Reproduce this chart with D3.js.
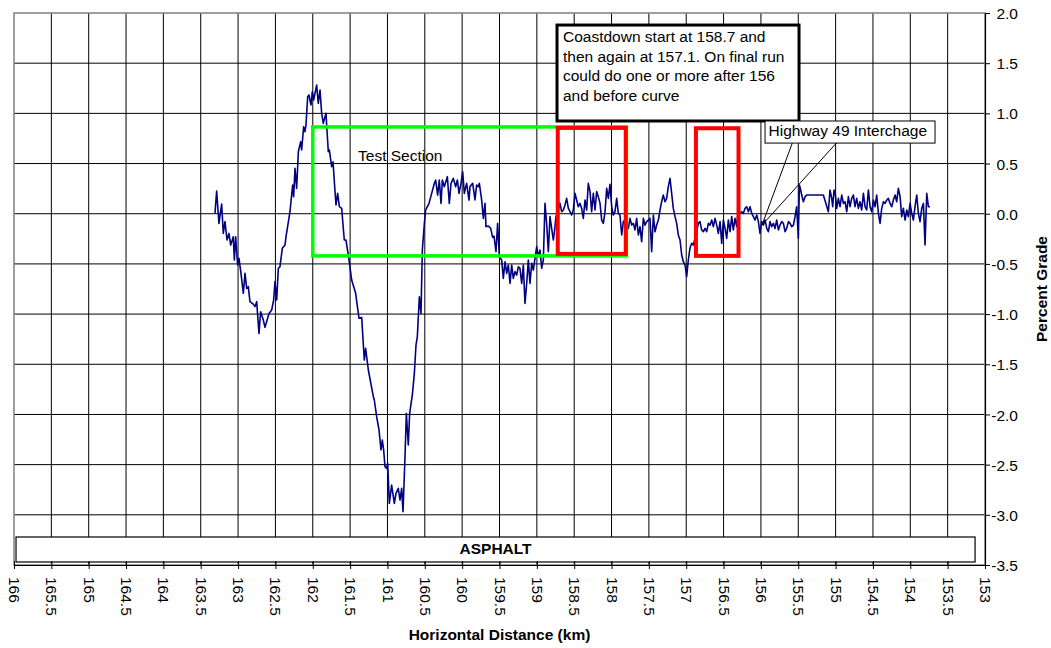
<!DOCTYPE html>
<html>
<head>
<meta charset="utf-8">
<script src="https://cdn.jsdelivr.net/npm/d3@7"></script>
<style>
  html, body { margin: 0; padding: 0; background: #fff; }
  svg { display: block; font-family: "Liberation Sans", Arial, sans-serif; }
</style>
</head>
<body>
<svg id="chart" width="1051" height="648"></svg>
<script>
// ---------------- data ----------------
const distanceKm = [
  163.309,163.287,163.256,163.220,163.198,163.175,163.148,163.122,163.099,163.064,
  163.050,163.032,163.006,162.988,162.961,162.930,162.907,162.885,162.863,162.841,
  162.796,162.774,162.751,162.720,162.698,162.662,162.640,162.608,162.586,162.550,
  162.524,162.506,162.483,162.461,162.439,162.408,162.372,162.358,162.305,162.283,
  162.269,162.256,162.238,162.216,162.193,162.162,162.149,162.122,162.104,162.091,
  162.068,162.051,162.024,162.006,161.988,161.948,161.926,161.903,161.881,161.859,
  161.836,161.823,161.814,161.792,161.778,161.747,161.729,161.702,161.689,161.667,
  161.644,161.613,161.578,161.555,161.515,161.479,161.426,161.381,161.345,161.310,
  161.292,161.256,161.189,161.176,161.145,161.113,161.087,161.069,161.051,161.033,
  161.011,160.997,160.975,160.944,160.908,160.886,160.855,160.832,160.810,160.792,
  160.765,160.747,160.721,160.703,160.667,160.640,160.618,160.600,160.573,160.551,
  160.533,160.506,160.489,160.444,160.408,160.372,160.355,160.328,160.306,160.283,
  160.265,160.239,160.198,160.172,160.149,160.118,160.087,160.064,160.042,160.015,
  159.993,159.971,159.940,159.908,
  159.895,159.859,159.828,159.806,159.783,159.770,159.739,159.716,159.694,159.681,
  159.650,159.618,159.592,159.574,159.547,159.525,159.502,159.471,159.449,159.426,
  159.404,159.382,159.359,159.337,159.315,159.293,159.270,159.248,159.226,159.203,
  159.181,159.159,159.136,159.114,159.092,159.069,159.047,159.025,159.002,158.980,
  158.958,158.935,158.913,158.891,158.869,158.846,158.824,158.802,158.779,158.757,
  158.744,158.726,158.690,158.668,158.645,158.623,158.601,158.578,158.556,158.534,
  158.512,158.489,158.467,158.445,158.422,158.400,158.378,158.355,158.333,158.311,
  158.288,158.266,158.244,158.221,158.199,158.177,158.154,158.132,158.110,158.087,
  158.065,158.043,158.021,157.998,157.976,157.954,157.931,157.909,157.887,157.864,
  157.842,157.820,157.797,157.775,157.753,157.730,157.708,157.686,157.664,157.641,
  157.619,157.597,157.574,157.552,157.530,157.507,157.485,157.463,157.440,157.418,
  157.396,157.373,157.351,157.329,157.307,157.284,157.262,157.240,157.217,157.195,
  157.173,157.150,157.128,157.106,157.083,157.061,157.039,157.016,156.994,156.972,
  156.950,156.927,156.905,156.883,156.860,156.838,156.816,
  156.793,156.770,156.748,156.726,156.704,156.681,156.659,156.637,156.614,156.592,
  156.570,156.547,156.525,156.503,156.480,156.458,156.436,156.413,156.391,156.369,
  156.347,156.324,156.302,156.280,156.257,156.235,156.213,156.190,156.168,156.146,
  156.123,156.101,156.079,156.056,156.034,156.012,155.989,155.967,155.945,155.922,
  155.900,155.878,155.856,155.833,155.811,155.789,155.766,155.744,155.722,155.699,
  155.677,155.655,155.632,155.610,155.588,155.565,155.543,155.521,155.499,155.485,
  155.467,155.454,155.432,155.409,155.387,155.275,155.164,155.097,155.075,155.052,
  155.039,155.021,155.003,154.985,154.963,154.941,154.918,154.896,154.874,154.851,
  154.829,154.807,154.784,154.762,154.740,154.718,154.695,154.673,154.651,154.628,
  154.606,154.584,154.561,154.539,154.517,154.494,154.472,154.450,154.427,154.405,
  154.383,154.360,154.338,154.316,154.294,154.271,154.249,154.227,154.204,154.182,
  154.160,154.137,154.115,154.093,154.070,154.048,154.026,154.003,153.981,153.959,
  153.937,153.914,153.892,153.870,153.847,153.825,153.803,153.780,153.758,153.736
];
const percentGrade = [
  0.004,0.226,-0.096,0.097,-0.196,-0.079,-0.262,-0.196,-0.312,-0.229,
  -0.461,-0.229,-0.511,-0.445,-0.594,-0.793,-0.594,-0.744,-0.727,-0.876,
  -0.900,-0.926,-0.876,-1.192,-0.976,-1.059,-1.132,-1.052,-0.993,-0.959,
  -0.860,-0.677,-0.860,-0.544,-0.528,-0.345,-0.312,-0.229,0.020,0.186,
  0.286,0.170,0.452,0.253,0.618,0.718,0.635,0.867,0.817,0.884,
  1.166,1.183,1.083,1.216,1.133,1.282,1.100,1.232,1.000,0.900,
  0.967,1.000,0.884,0.618,0.635,0.469,0.518,0.219,0.087,0.203,
  0.070,0.053,-0.262,-0.262,-0.461,-0.661,-0.793,-1.042,-1.033,-1.458,
  -1.341,-1.557,-1.823,-1.856,-2.022,-2.155,-2.354,-2.255,-2.354,-2.520,
  -2.537,-2.487,-2.886,-2.703,-2.886,-2.786,-2.736,-2.853,-2.736,-2.969,
  -2.421,-1.989,-2.305,-1.989,-1.806,-1.590,-1.308,-1.225,-0.827,-0.993,
  -0.362,-0.096,0.037,0.103,0.203,0.303,0.336,0.186,0.336,0.103,
  0.336,0.269,0.369,0.103,0.303,0.352,0.269,0.336,0.203,0.303,
  0.419,0.203,0.303,0.136,
  0.270,0.303,0.137,0.286,0.270,0.303,0.137,-0.046,0.103,-0.129,
  -0.122,-0.146,-0.235,-0.222,-0.378,-0.096,-0.428,-0.461,-0.644,-0.478,
  -0.594,-0.511,-0.694,-0.511,-0.644,-0.577,-0.611,-0.528,-0.544,-0.694,
  -0.511,-0.893,-0.694,-0.461,-0.694,-0.494,-0.561,-0.445,-0.328,-0.428,
  -0.361,-0.544,-0.461,0.103,-0.096,-0.378,-0.029,-0.146,-0.262,-0.129,
  -0.029,0.004,0.103,0.020,0.037,0.087,0.153,0.053,0.020,-0.013,
  0.037,0.203,0.137,0.070,0.103,0.053,-0.046,0.137,0.037,0.303,
  0.220,0.020,0.203,0.037,0.220,0.170,0.103,-0.063,-0.096,0.020,
  0.253,0.153,0.293,0.070,-0.013,0.020,0.153,0.004,-0.013,-0.212,
  -0.079,-0.063,-0.096,-0.146,-0.046,-0.113,-0.096,-0.162,-0.046,-0.212,
  -0.129,-0.279,-0.046,-0.113,-0.079,-0.063,-0.046,-0.378,-0.013,-0.179,
  -0.113,-0.063,0.037,0.120,0.186,0.120,0.153,0.270,0.352,0.203,
  0.053,-0.029,-0.096,-0.212,-0.262,-0.411,-0.478,-0.511,-0.627,-0.461,
  -0.345,-0.295,-0.312,-0.245,-0.179,-0.096,-0.079,
  -0.162,-0.179,-0.146,-0.179,-0.096,-0.113,-0.063,-0.129,-0.046,-0.113,
  -0.196,-0.079,-0.295,-0.063,-0.146,-0.245,-0.063,-0.179,-0.029,-0.162,
  -0.046,-0.129,0.053,0.004,0.020,0.004,0.053,0.070,0.020,0.070,
  0.004,-0.029,-0.063,-0.013,-0.079,-0.196,-0.079,-0.113,-0.063,-0.146,
  -0.179,-0.079,-0.129,-0.096,-0.146,-0.063,-0.162,-0.113,-0.079,-0.096,
  -0.179,-0.146,-0.079,-0.096,-0.129,-0.113,-0.029,0.070,-0.245,0.286,
  0.236,0.186,0.120,0.170,0.186,0.186,0.186,0.020,0.236,0.153,
  0.070,0.236,0.186,0.053,0.153,0.070,0.186,0.103,0.120,0.020,
  0.170,0.070,0.153,0.186,0.070,0.153,0.053,0.120,0.037,0.203,
  0.070,0.037,0.236,0.070,0.020,0.136,0.070,0.186,0.004,-0.096,
  0.053,0.120,0.103,0.136,0.153,0.103,0.070,0.136,0.186,0.120,
  0.253,0.170,-0.029,0.053,-0.063,0.037,-0.029,0.103,0.004,-0.063,
  0.070,0.186,0.004,-0.079,0.053,0.103,-0.312,0.203,0.070,0.070
];

const xTickValues = [166,165.5,165,164.5,164,163.5,163,162.5,162,161.5,161,160.5,160,159.5,159,158.5,158,157.5,157,156.5,156,155.5,155,154.5,154,153.5,153];
const xTickLabels = ["166","165.5","165","164.5","164","163.5","163","162.5","162","161.5","161","160.5","160","159.5","159","158.5","158","157.5","157","156.5","156","155.5","155","154.5","154","153.5","153"];
const yTickValues = [2.0,1.5,1.0,0.5,0.0,-0.5,-1.0,-1.5,-2.0,-2.5,-3.0,-3.5];
const yTickLabels = ["2.0","1.5","1.0","0.5","0.0","-0.5","-1.0","-1.5","-2.0","-2.5","-3.0","-3.5"];

// highlighted regions (km from, km to, grade low, grade high)
const testSection = {x0:162.0, x1:157.80, y0:-0.42, y1:0.865};
const coastdownBoxes = [
  {x0:158.72, x1:157.81, y0:-0.40, y1:0.855},
  {x0:156.87, x1:156.30, y0:-0.42, y1:0.852}
];
const noteText = ["Coastdown start at 158.7 and","then again at 157.1. On final run","could do one or more after 156","and before curve"];
const noteBox = {x0:158.73, x1:155.49, y0:0.924, y1:1.880};
const hwyBox = {x0:155.945, x1:153.669, y0:0.704, y1:0.924, tipX:155.985, tipY:-0.113, baseA:155.58, baseB:154.99};
const surfaceBox = {x0:165.973, x1:153.133, y0:-3.47, y1:-3.221, label:"ASPHALT"};

// ---------------- layout ----------------
const svg = d3.select("#chart");
const L = 14, R = 985, T = 13, B = 565;
const FONT = 15.5;

const x = d3.scaleLinear().domain([166, 153]).range([L, R]);
const y = d3.scaleLinear().domain([-3.5, 2.0]).range([B, T]);

svg.append("rect").attr("width",1051).attr("height",648).attr("fill","#fff");

// gridlines
const grid = svg.append("g");
grid.selectAll("line.v").data(xTickValues.slice(1,-1)).join("line")
  .attr("x1", d => x(d)).attr("x2", d => x(d)).attr("y1", T).attr("y2", B)
  .attr("stroke", "#000").attr("stroke-width", 1);
grid.selectAll("line.h").data(yTickValues.slice(1,-1)).join("line")
  .attr("x1", L).attr("x2", R).attr("y1", d => y(d)).attr("y2", d => y(d))
  .attr("stroke", "#000").attr("stroke-width", 1);

// plot border
svg.append("rect").attr("x", L).attr("y", T).attr("width", R-L).attr("height", B-T)
  .attr("fill","none").attr("stroke","#808080").attr("stroke-width",1.5);

// data line
const pts = distanceKm.map((d,i) => [d, percentGrade[i]]);
svg.append("path").datum(pts)
  .attr("d", d3.line().x(d => x(d[0])).y(d => y(d[1])))
  .attr("fill","none").attr("stroke","#000080").attr("stroke-width",1.6)
  .attr("stroke-linejoin","round");

// test section box
svg.append("rect")
  .attr("x", x(testSection.x0)).attr("y", y(testSection.y1))
  .attr("width", x(testSection.x1)-x(testSection.x0))
  .attr("height", y(testSection.y0)-y(testSection.y1))
  .attr("fill","none").attr("stroke","#00FF00").attr("stroke-width",3.5);
svg.append("text").attr("x", x(161.394)).attr("y", y(0.525))
  .attr("font-size", FONT).attr("fill","#000").text("Test Section");

// coastdown boxes
svg.selectAll("rect.cd").data(coastdownBoxes).join("rect")
  .attr("x", d => x(d.x0)).attr("y", d => y(d.y1))
  .attr("width", d => x(d.x1)-x(d.x0)).attr("height", d => y(d.y0)-y(d.y1))
  .attr("fill","none").attr("stroke","#FF0000").attr("stroke-width",4);

// note callout
svg.append("rect")
  .attr("x", x(noteBox.x0)).attr("y", y(noteBox.y1))
  .attr("width", x(noteBox.x1)-x(noteBox.x0)).attr("height", y(noteBox.y0)-y(noteBox.y1))
  .attr("fill","#fff").attr("stroke","#000").attr("stroke-width",3);
svg.append("g").selectAll("text").data(noteText).join("text")
  .attr("x", x(noteBox.x0)+6).attr("y", (d,i) => y(noteBox.y1)+16.7+i*19.8)
  .attr("font-size", FONT).attr("fill","#000").text(d => d);

// highway callout
svg.append("path")
  .attr("d", `M${x(hwyBox.baseA)},${y(hwyBox.y0)} L${x(hwyBox.tipX)},${y(hwyBox.tipY)} L${x(hwyBox.baseB)},${y(hwyBox.y0)}`)
  .attr("fill","none").attr("stroke","#000").attr("stroke-width",1);
svg.append("rect")
  .attr("x", x(hwyBox.x0)).attr("y", y(hwyBox.y1))
  .attr("width", x(hwyBox.x1)-x(hwyBox.x0)).attr("height", y(hwyBox.y0)-y(hwyBox.y1))
  .attr("fill","#fff").attr("stroke","#000").attr("stroke-width",1);
svg.append("text").attr("x", x(hwyBox.x0)+3.5).attr("y", y(hwyBox.y1)+15.5)
  .attr("font-size", FONT).attr("fill","#000").text("Highway 49 Interchage");

// surface box
svg.append("rect")
  .attr("x", x(surfaceBox.x0)).attr("y", y(surfaceBox.y1))
  .attr("width", x(surfaceBox.x1)-x(surfaceBox.x0)).attr("height", y(surfaceBox.y0)-y(surfaceBox.y1))
  .attr("fill","#fff").attr("stroke","#000").attr("stroke-width",1.2);
svg.append("text").attr("x", (x(surfaceBox.x0)+x(surfaceBox.x1))/2).attr("y", y(surfaceBox.y1)+17.5)
  .attr("text-anchor","middle").attr("font-size", FONT).attr("font-weight","bold")
  .attr("fill","#000").text(surfaceBox.label);

// x axis
const xAxis = d3.axisBottom(x).tickValues(xTickValues)
  .tickFormat((d,i) => xTickLabels[i]).tickSizeInner(4).tickSizeOuter(0).tickPadding(0);
const gx = svg.append("g").attr("transform", `translate(0,${B})`).call(xAxis);
gx.select(".domain").attr("stroke","#000").attr("stroke-width",1);
gx.selectAll(".tick line").attr("y1",-4).attr("y2",4).attr("stroke","#000");
gx.selectAll(".tick text")
  .attr("font-family","Liberation Sans, Arial, sans-serif").attr("font-size", FONT).attr("fill","#000")
  .attr("text-anchor","start").attr("dy","0.35em").attr("y",0).attr("x",0)
  .attr("transform","translate(0,12) rotate(90)");

// y axis (right)
const yAxis = d3.axisRight(y).tickValues(yTickValues)
  .tickFormat((d,i) => yTickLabels[i]).tickSizeInner(5).tickSizeOuter(0).tickPadding(0);
const gy = svg.append("g").attr("transform", `translate(${R},0)`).call(yAxis);
gy.select(".domain").attr("stroke","#000").attr("stroke-width",1.2);
gy.selectAll(".tick line").attr("stroke","#000");
gy.selectAll(".tick text")
  .attr("font-family","Liberation Sans, Arial, sans-serif").attr("font-size", FONT).attr("fill","#000")
  .attr("text-anchor","end").attr("x", 33).attr("dy","0.36em");

// axis titles
svg.append("text").attr("x", (L+R)/2).attr("y", 639.5).attr("text-anchor","middle")
  .attr("font-size", FONT).attr("font-weight","bold").attr("fill","#000")
  .text("Horizontal Distance (km)");
svg.append("text").attr("transform", `translate(1046.5,${(T+B)/2}) rotate(-90)`)
  .attr("text-anchor","middle").attr("font-size", FONT).attr("font-weight","bold").attr("fill","#000")
  .text("Percent Grade");
</script>
</body>
</html>
